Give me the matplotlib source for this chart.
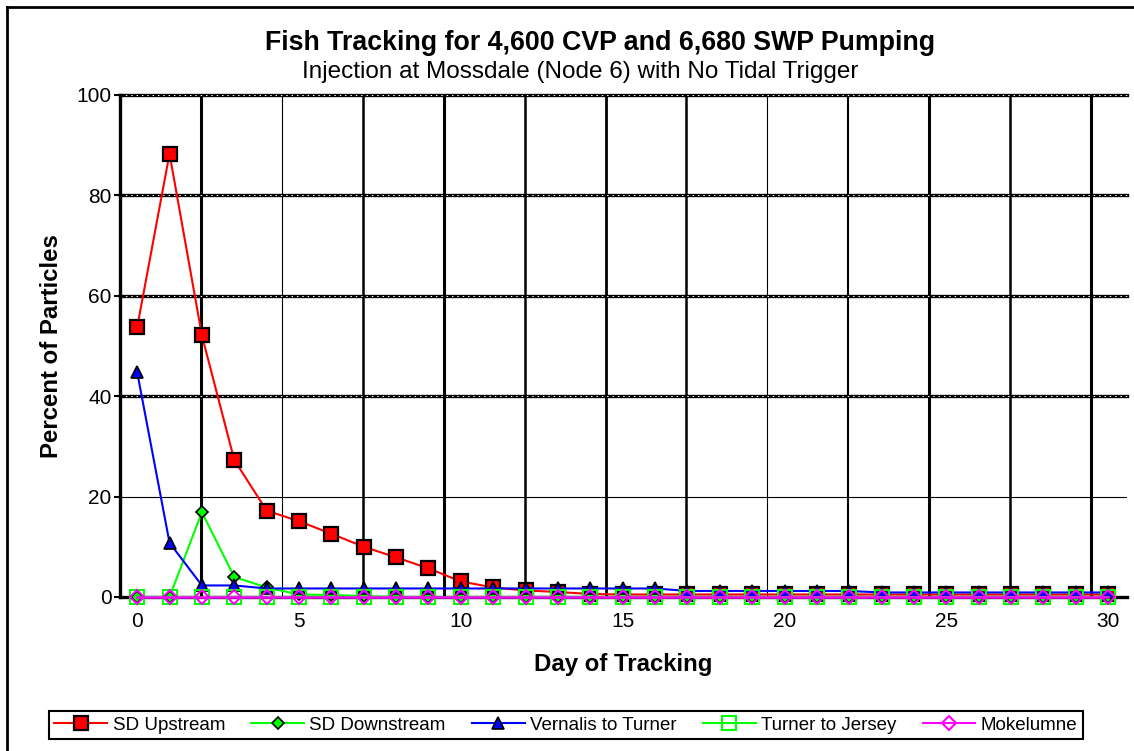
import numpy as np
import matplotlib
matplotlib.use("Agg")
import matplotlib.pyplot as plt
from matplotlib.lines import Line2D

plt.rcParams['font.family'] = ['Liberation Sans', 'DejaVu Sans']

# ---------- data ----------
days = list(range(31))
sd_upstream = [53.7, 88.3, 52.1, 27.3, 17.2, 15.1, 12.6, 10.0, 7.9, 5.7, 3.1,
               1.9, 1.3, 1.0, 0.6] + [0.5] * 16
sd_downstream = [0.0, 0.0, 16.9, 4.0, 1.9, 0.5, 0.4, 0.2] + [0.0] * 23
vernalis_turner = [44.8, 10.8, 2.3, 2.3] + [1.7] * 13 + [1.2] * 6 + [0.9] * 8
turner_jersey = [0.0] * 31
mokelumne = [0.0] * 31

series_names = ["SD Upstream", "SD Downstream", "Vernalis to Turner",
                "Turner to Jersey", "Mokelumne"]
y_ticks = [0, 20, 40, 60, 80, 100]
x_ticks = [0, 5, 10, 15, 20, 25, 30]

# ---------- figure ----------
W, H = 1134, 751
fig = plt.figure(figsize=(W / 100, H / 100), dpi=100)
ax = fig.add_axes([120 / W, 1 - 597 / H, (1127 - 120) / W, (597 - 95) / H])
ax.set_xlim(-0.53, 30.58)
ax.set_ylim(0, 100)

# odd Excel-style grid: vertical lines offset from the ticks, mixed widths
grid_x = [-0.53 + 2.5 * k for k in range(1, 13)]
grid_w = [2.2, 0.8, 1.8, 2.2, 1.8, 2.0, 1.8, 0.8, 1.5, 2.2, 1.8, 2.2]
for gx, gw in zip(grid_x, grid_w):
    ax.axvline(gx, color="black", lw=gw, zorder=1)
ax.axhline(20, color="black", lw=0.8, zorder=1)
for gy in [40, 60, 80, 100]:
    ax.axhline(gy, color="black", lw=2.4, zorder=1, clip_on=False)
    ax.axhline(gy, color="white", lw=0.7, ls=(0, (1.5, 4)), zorder=1.1,
               clip_on=False)

# ---------- series ----------
ax.plot(days, sd_upstream, color="#ff0000", lw=1.5, marker="s", ms=10,
        mfc="#ff0000", mec="black", mew=1.6, clip_on=False, zorder=3)
ax.plot(days, sd_downstream, color="#00ff00", lw=1.5, marker="D", ms=6.5,
        mfc="#00ff00", mec="black", mew=1.2, clip_on=False, zorder=3)
ax.plot(days, vernalis_turner, color="#0000ff", lw=1.5, marker="^", ms=9,
        mfc="#0000ff", mec="black", mew=1.2, clip_on=False, zorder=3)
ax.plot(days, turner_jersey, color="#00ff00", lw=1.5, marker="s", ms=9.5,
        mfc="none", mec="#00ff00", mew=1.5, clip_on=False, zorder=3)
ax.plot(days, mokelumne, color="#ff00ff", lw=1.8, marker="D", ms=7,
        mfc="none", mec="#ff00ff", mew=1.5, clip_on=False, zorder=3)

# ---------- axes styling ----------
for s in ["top", "right"]:
    ax.spines[s].set_visible(False)
ax.spines["left"].set_linewidth(2.4)
ax.spines["bottom"].set_linewidth(2.4)
ax.set_yticks(y_ticks)
ax.set_xticks(x_ticks)
ax.tick_params(axis="y", length=4, width=1.5, pad=2, labelsize=15)
ax.tick_params(axis="x", length=0, pad=11, labelsize=15)

fig.text(52 / W, 1 - 346 / H, "Percent of Particles", rotation=90,
         ha="center", va="center", fontsize=17.3, fontweight="bold")
fig.text(623 / W, 1 - 664 / H, "Day of Tracking", ha="center", va="center",
         fontsize=17.3, fontweight="bold")
fig.text(600 / W, 1 - 43 / H, "Fish Tracking for 4,600 CVP and 6,680 SWP Pumping",
         ha="center", va="center", fontsize=19.3, fontweight="bold")
fig.text(580 / W, 1 - 72 / H, "Injection at Mossdale (Node 6) with No Tidal Trigger",
         ha="center", va="center", fontsize=17.5)

# ---------- legend ----------
handles = [
    Line2D([], [], color="#ff0000", lw=1.5, marker="s", ms=10, mfc="#ff0000",
           mec="black", mew=1.6),
    Line2D([], [], color="#00ff00", lw=1.5, marker="D", ms=6.5, mfc="#00ff00",
           mec="black", mew=1.2),
    Line2D([], [], color="#0000ff", lw=1.5, marker="^", ms=9, mfc="#0000ff",
           mec="black", mew=1.2),
    Line2D([], [], color="#00ff00", lw=1.5, marker="s", ms=9.5, mfc="none",
           mec="#00ff00", mew=1.5),
    Line2D([], [], color="#ff00ff", lw=1.5, marker="D", ms=7, mfc="none",
           mec="#ff00ff", mew=1.5),
]
leg = fig.legend(handles, series_names, loc="center", ncol=5,
                 bbox_to_anchor=(566 / W, 1 - 725 / H), fontsize=13.5,
                 frameon=True, fancybox=False, framealpha=1,
                 edgecolor="black", handlelength=2.8, columnspacing=1.4,
                 handletextpad=0.3, borderpad=0.3)
leg.get_frame().set_linewidth(1.5)

# outer chart-area frame (only left/top visible in the reference)
fig.add_artist(Line2D([7 / W, 7 / W], [0, 1 - 7 / H], color="black", lw=2,
                      transform=fig.transFigure))
fig.add_artist(Line2D([7 / W, 1], [1 - 7 / H, 1 - 7 / H], color="black", lw=2,
                      transform=fig.transFigure))

fig.savefig("out.png", dpi=100)
